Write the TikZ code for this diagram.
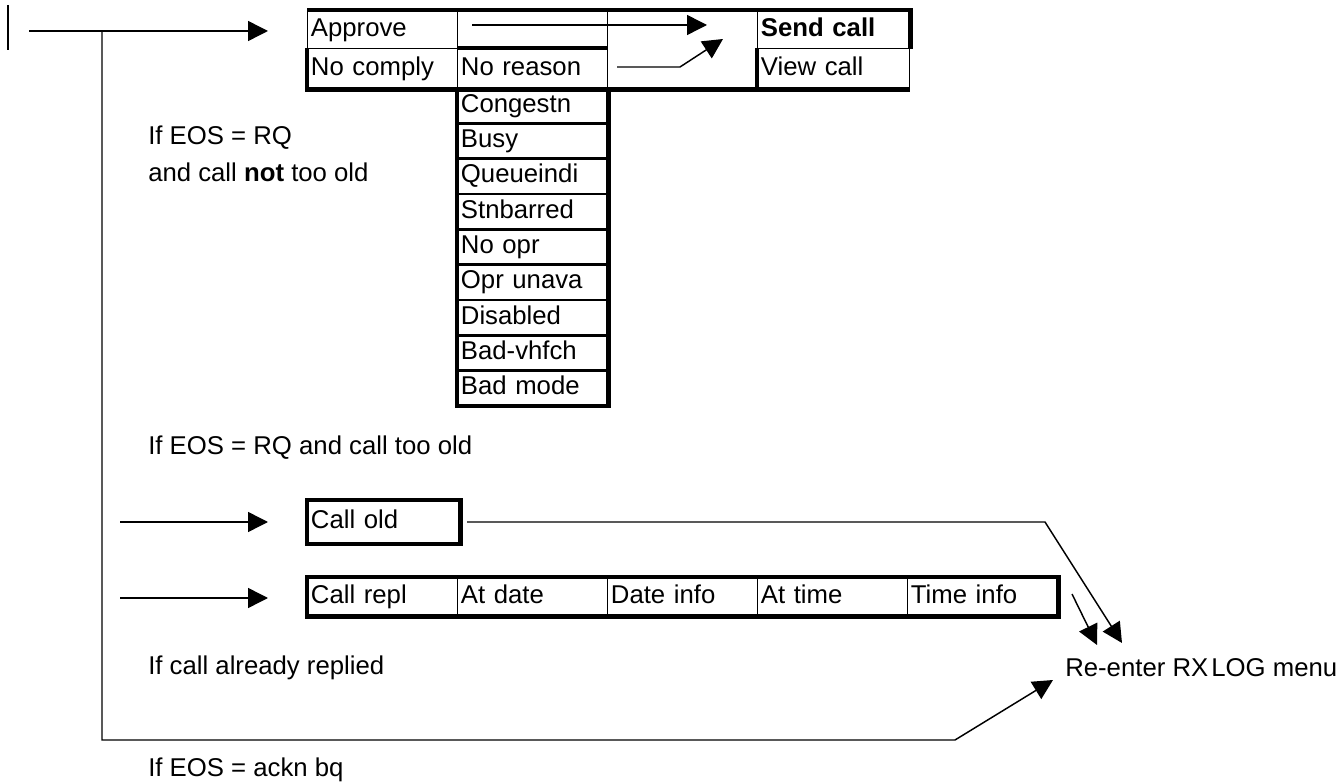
\documentclass[tikz,border=0pt]{standalone}
\usepackage{fontspec}
\setmainfont{Liberation Sans}
\usetikzlibrary{arrows.meta, positioning}

\begin{document}
\begin{tikzpicture}[x=0.75pt, y=-0.75pt,
    font=\fontsize{19.3pt}{22pt}\selectfont,
    cell/.style={rectangle, draw=black, line width=0.9pt, minimum height=28.5pt, text width=107.5pt, text height=13.8pt, text depth=4pt, inner xsep=2.5pt, inner ysep=0pt, align=left, anchor=north west},
    listcell/.style={cell, minimum height=25.6pt},
    heavy/.style={line width=3.5pt},
    medium/.style={line width=2pt},
    wire/.style={line width=1.1pt},
    arr/.style={wire, -{Triangle[length=15pt, width=15pt]}},
    note/.style={anchor=west, inner sep=0pt}
]
    \useasboundingbox (0,0) rectangle (1340,784);

    % Menu table
    \node[cell] (appr) at (307,10) {Approve};
    \node[cell] (blanka) at (457,10) {};
    \node[cell, minimum height=58.5pt] (blankb) at (607,10) {};
    \node[cell, text width=109pt] (send) at (757,10) {\textbf{Send call}};
    \node[cell, minimum height=30pt] (nocomp) at (307,48) {No comply};
    \node[cell, minimum height=30pt] (norsn) at (457,48) {No reason};
    \node[cell, minimum height=30pt, text width=109pt] (view) at (757,48) {View call};

    % Reasons
    \node[listcell] (cong) at (457,88) {Congestn};
    \node[listcell, below=0pt of cong] (busy) {Busy};
    \node[listcell, below=0pt of busy] (queue) {Queueindi};
    \node[listcell, below=0pt of queue] (barred) {Stnbarred};
    \node[listcell, below=0pt of barred] (noopr) {No opr};
    \node[listcell, below=0pt of noopr] (unava) {Opr unava};
    \node[listcell, below=0pt of unava] (disab) {Disabled};
    \node[listcell, below=0pt of disab] (vhfch) {Bad-vhfch};
    \node[listcell, below=0pt of vhfch] (mode) {Bad mode};

    % Heavy borders
    \draw[heavy] (appr.north west) -- (send.north east) -- (send.south east);
    \draw[heavy] (nocomp.north west) -- (nocomp.south west) -- (view.south east);
    \draw[heavy] (norsn.north west) -- (norsn.north east);
    \draw[heavy] (view.north west) -- (view.south west);
    \draw[heavy] (cong.north west) -- (mode.south west) -- (mode.south east) -- (cong.north east);
    \draw[medium] (busy.south west) -- (busy.south east);
    \draw[medium] (disab.north west) -- (disab.north east);

    % Call old / call replied
    \node[cell, minimum height=32pt, text width=109pt] (cold) at (307,500) {Call old};
    \draw[heavy] (cold.north west) rectangle (cold.south east);
    \node[cell] (crepl) at (307,577) {Call repl};
    \node[cell] (atdate) at (457,577) {At date};
    \node[cell] (dinfo) at (607,577) {Date info};
    \node[cell] (attime) at (757,577) {At time};
    \node[cell] (tinfo) at (907,577) {Time info};
    \draw[heavy] (crepl.north west) rectangle (tinfo.south east);

    % Conditions
    \node[note] (rq) at (148,138) {If EOS = RQ};
    \node[note] (notold) at (148,172) {and call \textbf{not} too old};
    \node[note] (tooold) at (148,448) {If EOS = RQ and call too old};
    \node[note] (replied) at (148,668) {If call already replied};
    \node[note] (ackn) at (148,770) {If EOS = ackn bq};
    \node[note] (reenter) at (1065,668) {Re-enter RX\hspace{0.12em}LOG menu};

    % Entry and branch
    \coordinate (marka) at (8,5);
    \coordinate (markb) at (8,50);
    \coordinate (entry) at (29,31);
    \coordinate (fork) at (102,31);
    \coordinate (approin) at (268,31);
    \coordinate (forkend) at (102,740);
    \coordinate (bend) at (955,740);
    \coordinate (backin) at (1053,680);
    \draw[wire] (marka) -- (markb);
    \draw[arr] (entry) -- (approin);
    \draw[arr] (fork) -- (forkend) -- (bend) -- (backin);

    % Inside the table
    \coordinate (sendsrc) at (472,25);
    \coordinate (sendtip) at (707,25);
    \coordinate (rsnsrc) at (617,67);
    \coordinate (rsnknee) at (680,67);
    \coordinate (rsntip) at (723,39);
    \draw[arr] (sendsrc) -- (sendtip);
    \draw[arr] (rsnsrc) -- (rsnknee) -- (rsntip);

    % Lower entries
    \coordinate (oldin) at (120,522);
    \coordinate (oldtip) at (268,522);
    \coordinate (replin) at (120,598);
    \coordinate (repltip) at (268,598);
    \draw[arr] (oldin) -- (oldtip);
    \draw[arr] (replin) -- (repltip);

    % Back to menu
    \coordinate (oldout) at (467,522);
    \coordinate (oldknee) at (1045,522);
    \coordinate (oldback) at (1122,643);
    \coordinate (replout) at (1072,594);
    \coordinate (replback) at (1097,645);
    \draw[arr] (oldout) -- (oldknee) -- (oldback);
    \draw[arr] (replout) -- (replback);
\end{tikzpicture}
\end{document}
